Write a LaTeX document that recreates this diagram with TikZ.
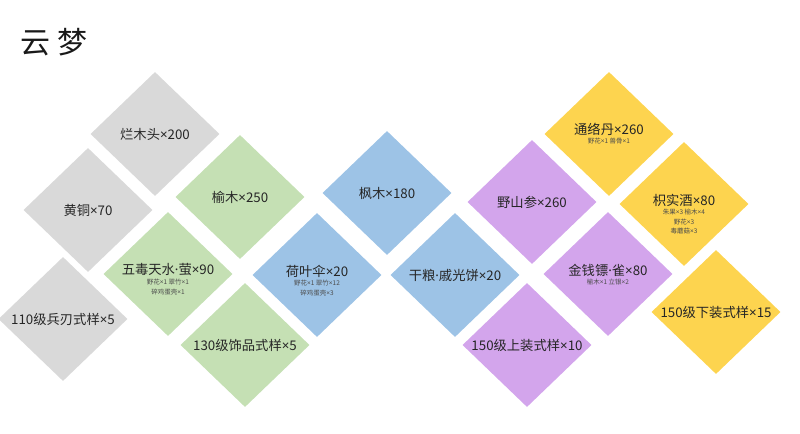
\documentclass[tikz,border=0pt]{standalone}
\usepackage{fontspec}
\setmainfont{Noto Sans CJK SC}
\newfontfamily\nsans{Noto Sans}
\newcommand{\by}{{\nsans ×}}
\newcommand{\dt}{{\nsans ·}}
\usetikzlibrary{positioning,shapes.geometric}
\definecolor{tilegray}{HTML}{D9D9D9}
\definecolor{tilegreen}{HTML}{C5E0B4}
\definecolor{tileblue}{HTML}{9DC3E6}
\definecolor{tilepurple}{HTML}{D3A5EC}
\definecolor{tileyellow}{HTML}{FDD44F}
\tikzset{
	tile/.style={shape=diamond, minimum width=129bp, minimum height=124bp, inner sep=0pt, fill=#1},
	big/.style={font=\fontsize{13.3bp}{15bp}\selectfont, text=black!85, inner sep=0pt},
	small/.style={font=\fontsize{6.5bp}{9.5bp}\selectfont, text=black!70, align=center, inner sep=0pt}
}

\begin{document}
\begin{tikzpicture}[x=1bp,y=-1bp]
				\useasboundingbox (0,0) rectangle (800,434);
				
				\node[font=\fontsize{30bp}{32bp}\selectfont, text=black!90] (title) at (54,42) {云\hspace{8bp}梦};
				
				% gray
				\node[tile=tilegray] (lanmu) at (155,134) {};
				\node[big] at (lanmu) {烂木头\by200};
				\node[tile=tilegray] (huangtong) at (88,210) {};
				\node[big] at (huangtong) {黄铜\by70};
				\node[tile=tilegray] (bingren) at (63,319) {};
				\node[big] at (bingren) {110级兵刃式样\by5};
				
				% green
				\node[tile=tilegreen] (yumu) at (240,197) {};
				\node[big] at (yumu) {榆木\by250};
				\node[tile=tilegreen] (wudu) at (168,274) {};
				\node[big] (wudutxt) at (168,270) {五毒天水\dt{}萤\by90};
				\node[small, below=2.5bp of wudutxt] {野花\by1 翠竹\by1\\碎鸡蛋壳\by1};
				\node[tile=tilegreen] (shipin) at (245,345) {};
				\node[big] at (shipin) {130级饰品式样\by5};
				
				% blue
				\node[tile=tileblue] (fengmu) at (387,193) {};
				\node[big] at (fengmu) {枫木\by180};
				\node[tile=tileblue] (heye) at (317,275) {};
				\node[big] (heyetxt) at (317,271) {荷叶伞\by20};
				\node[small, below=2.5bp of heyetxt] {野花\by1 翠竹\by12\\碎鸡蛋壳\by3};
				\node[tile=tileblue] (ganliang) at (455,275) {};
				\node[big] at (ganliang) {干粮\dt{}戚光饼\by20};
				
				% purple
				\node[tile=tilepurple] (yeshan) at (532,202) {};
				\node[big] at (yeshan) {野山参\by260};
				\node[tile=tilepurple] (shangzhuang) at (527,345) {};
				\node[big] at (shangzhuang) {150级上装式样\by10};
				\node[tile=tilepurple] (jinqian) at (608,274) {};
				\node[big] (jinqiantxt) at (608,270) {金钱镖\dt{}雀\by80};
				\node[small, below=2.5bp of jinqiantxt] {榆木\by1 立银\by2};
				
				% yellow
				\node[tile=tileyellow] (tongluo) at (609,134) {};
				\node[big] (tongluotxt) at (609,129) {通络丹\by260};
				\node[small, below=2.5bp of tongluotxt] {野花\by1 兽骨\by1};
				\node[tile=tileyellow] (zhishi) at (684,204) {};
				\node[big] (zhishitxt) at (684,200) {枳实酒\by80};
				\node[small, below=2.5bp of zhishitxt] {朱果\by3 榆木\by4\\野花\by3\\毒蘑菇\by3};
				\node[tile=tileyellow] (xiazhuang) at (716,312) {};
				\node[big] at (xiazhuang) {150级下装式样\by15};
			\end{tikzpicture}
\end{document}
